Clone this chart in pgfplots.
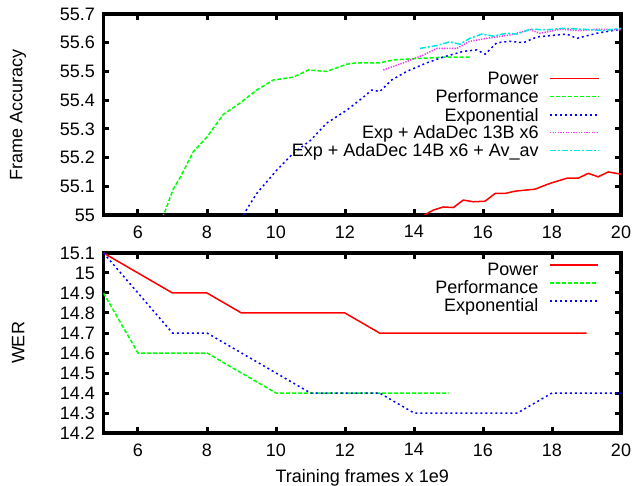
\documentclass[border=0pt]{standalone}
\usepackage{fontspec}
\setmainfont{Liberation Sans}
\usepackage{pgfplots}
\pgfplotsset{compat=1.18}

\definecolor{gpgreen}{RGB}{0,255,0}
\definecolor{gpmagenta}{RGB}{240,60,240}
\definecolor{gpcyan}{RGB}{0,230,230}

\newcommand\lgfont{\fontsize{18}{21}\selectfont}

\tikzset{
  pow/.style={color=red, line width=1.5pt},
  perf/.style={color=gpgreen, line width=1.5pt, dash pattern=on 4pt off 2pt},
  expo/.style={color=blue, line width=1.5pt, dash pattern=on 2pt off 3pt},
  ada13/.style={color=gpmagenta, line width=1.5pt, dash pattern=on 1.3pt off 1.3pt},
  ada14/.style={color=gpcyan, line width=1.5pt, dash pattern=on 6pt off 2pt on 2pt off 2pt},
  lgtext/.style={anchor=base east, inner sep=0pt, font=\lgfont},
}

\pgfplotsset{
  gpaxis/.style={
    scale only axis,
    width=517.5pt,
    xmin=5, xmax=20,
    xtick={6,8,10,12,14,16,18,20},
    tick align=inside,
    major tick length=6pt,
    minor tick num=0,
    axis line style={line width=3.2pt},
    tick style={line width=3pt, black},
    font=\lgfont,
    /pgf/number format/assume math mode=true,
    xticklabel style={yshift=-7pt},
    yticklabel style={xshift=-5pt},
    legend plot pos=right,
    legend cell align=right,
    legend image code/.code={\draw[#1] (0pt,6pt) -- (48pt,6pt);},
    legend style={draw=none, fill=none, inner sep=0pt, anchor=north east,
      nodes={inner sep=0pt, text height=13pt, text depth=4pt},
      row sep=1pt, column sep=11pt},
  },
}

\begin{document}
\begin{tikzpicture}
\useasboundingbox (0pt,0pt) rectangle (635pt,-486pt);

% top: frame accuracy
\begin{axis}[
  gpaxis,
  at={(103.5pt,-14pt)}, anchor=north west,
  height=201pt,
  ymin=55, ymax=55.7,
  ytick={55,55.1,55.2,55.3,55.4,55.5,55.6,55.7},
  yticklabels={55,55.1,55.2,55.3,55.4,55.5,55.6,55.7},
  ylabel={Frame Accuracy},
  ylabel style={at={(axis description cs:-0.165,0.5)}, anchor=center},
]
\addplot[pow] coordinates {(14.3,55.0)(14.56,55.017)(14.85,55.028)(15.14,55.026)(15.43,55.052)(15.72,55.046)(16.06,55.048)(16.35,55.075)(16.64,55.075)(16.93,55.083)(17.51,55.09)(17.94,55.11)(18.43,55.128)(18.76,55.128)(19.05,55.145)(19.34,55.133)(19.63,55.15)(20,55.142)};
\addplot[perf] coordinates {(6.7,54.99)(6.76,55.005)(7.02,55.09)(7.22,55.13)(7.6,55.22)(7.99,55.27)(8.47,55.35)(8.96,55.39)(9.44,55.435)(9.92,55.47)(10.5,55.48)(10.94,55.505)(11.47,55.50)(12.05,55.525)(12.34,55.53)(13.01,55.53)(13.4,55.54)(14.08,55.545)(14.95,55.55)(15.67,55.55)};
\addplot[expo] coordinates {(9.05,55.0)(9.44,55.075)(10.02,55.156)(10.5,55.215)(11.0,55.26)(11.47,55.32)(12.05,55.365)(12.53,55.41)(12.77,55.435)(13.01,55.43)(13.35,55.47)(13.79,55.50)(14.37,55.53)(14.85,55.55)(15.43,55.57)(15.82,55.575)(16.06,55.56)(16.4,55.60)(16.78,55.605)(17.17,55.60)(17.56,55.62)(18.14,55.627)(18.43,55.63)(18.72,55.615)(19.3,55.633)(20,55.647)};
\addplot[ada13] coordinates {(13.11,55.505)(13.69,55.53)(14.27,55.557)(14.66,55.58)(15.24,55.58)(15.62,55.605)(16.1,55.615)(16.78,55.627)(17.37,55.645)(17.65,55.633)(18.24,55.647)(18.81,55.642)(19.3,55.647)(20,55.645)};
\addplot[ada14] coordinates {(14.17,55.58)(14.66,55.59)(15.04,55.603)(15.33,55.595)(15.62,55.615)(15.96,55.63)(16.3,55.623)(16.69,55.633)(16.98,55.63)(17.37,55.647)(17.85,55.645)(18.33,55.65)(18.91,55.647)(19.49,55.642)(20,55.65)};
% key: sample lines and their names
\addplot[pow] coordinates {(17.94,55.476)(19.36,55.476)};
\addplot[perf] coordinates {(17.94,55.412)(19.36,55.412)};
\addplot[expo] coordinates {(17.94,55.348)(19.36,55.348)};
\addplot[ada13] coordinates {(17.94,55.287)(19.36,55.287)};
\addplot[ada14] coordinates {(17.94,55.224)(19.36,55.224)};
\node[lgtext] at (axis cs:17.62,55.455) {Power};
\node[lgtext] at (axis cs:17.62,55.391) {Performance};
\node[lgtext] at (axis cs:17.62,55.327) {Exponential};
\node[lgtext] at (axis cs:17.62,55.266) {Exp + AdaDec 13B x6};
\node[lgtext] at (axis cs:17.62,55.203) {Exp + AdaDec 14B x6 + Av\_av};
\end{axis}

% bottom: WER
\begin{axis}[
  gpaxis,
  at={(103.5pt,-253pt)}, anchor=north west,
  height=180pt,
  ymin=14.2, ymax=15.1,
  ytick={14.2,14.3,14.4,14.5,14.6,14.7,14.8,14.9,15,15.1},
  yticklabels={14.2,14.3,14.4,14.5,14.6,14.7,14.8,14.9,15,15.1},
  ylabel={WER},
  ylabel style={at={(axis description cs:-0.165,0.5)}, anchor=center},
  xlabel={Training frames x 1e9},
  xlabel style={at={(axis description cs:0.5,-0.25)}, anchor=center},
  legend style={at={(rel axis cs:0.9575,0.949)}},
]
\addplot[pow] coordinates {(5,15.1)(6,15.0)(7,14.9)(8,14.9)(9,14.8)(10,14.8)(11,14.8)(12,14.8)(13,14.7)(14,14.7)(15,14.7)(16,14.7)(17,14.7)(18,14.7)(19,14.7)};
\addplot[perf] coordinates {(5,14.9)(6,14.6)(7,14.6)(8,14.6)(9,14.5)(10,14.4)(11,14.4)(12,14.4)(13,14.4)(14,14.4)(15,14.4)};
\addplot[expo] coordinates {(5,15.1)(6,14.9)(7,14.7)(8,14.7)(9,14.6)(10,14.5)(11,14.4)(12,14.4)(13,14.4)(14,14.3)(15,14.3)(16,14.3)(17,14.3)(18,14.4)(19,14.4)(20,14.4)};
\legend{Power, Performance, Exponential}
\end{axis}
\end{tikzpicture}
\end{document}
